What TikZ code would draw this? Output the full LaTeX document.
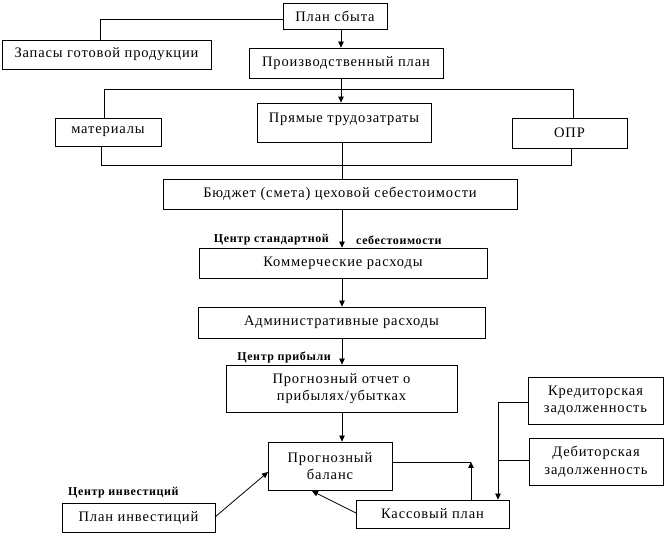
\documentclass[tikz,border=0pt]{standalone}
\usepackage{fontspec}
\setmainfont{Liberation Serif}[LetterSpace=6]
\newfontfamily\lblfont{Liberation Serif}[LetterSpace=5]
\usetikzlibrary{arrows.meta}
\begin{document}
\begin{tikzpicture}[x=1pt,y=-1pt,
  box/.style={draw=black,line width=0.8pt,inner sep=0pt,font=\fontsize{14.5}{17.5}\selectfont,align=center},
  lbl/.style={font=\lblfont\bfseries\fontsize{12}{14}\selectfont,inner sep=0pt},
  ln/.style={draw=black,line width=0.8pt},
  arr/.style={ln,-{Triangle[length=6pt,width=5.5pt]}}]
\useasboundingbox (0,0) rectangle (665,534);
% boxes
\node[box,minimum width=104,minimum height=26] (sbyt) at (335,16) {План сбыта};
\node[box,minimum width=209,minimum height=29] (zapas) at (106.5,54.5) {Запасы готовой продукции};
\node[box,minimum width=194,minimum height=30] (proiz) at (346,63) {Производственный план};
\node[box,minimum width=106,minimum height=28] (mat) at (108,132) {материалы};
\node[box,minimum width=174,text height=20pt,text depth=19pt,anchor=base] (pryam) at (344,123) {Прямые трудозатраты};
\node[box,minimum width=115,minimum height=30] (opr) at (569.5,133) {ОПР};
\node[box,minimum width=354,minimum height=30] (budg) at (340,194) {Бюджет (смета) цеховой себестоимости};
\node[box,minimum width=288,minimum height=30] (komm) at (343,263) {Коммерческие расходы};
\node[box,minimum width=287,minimum height=31] (adm) at (341.5,322.5) {Административные расходы};
\node[box,minimum width=231,minimum height=47] (prog) at (341.5,388.5) {Прогнозный отчет о\\прибылях/убытках};
\node[box,minimum width=124,minimum height=48] (bal) at (330,466) {Прогнозный\\баланс};
\node[box,minimum width=153,minimum height=28] (kas) at (432.5,514) {Кассовый план};
\node[box,minimum width=153,minimum height=29] (inv) at (138.5,517.5) {План инвестиций};
\node[box,minimum width=135,minimum height=47] (kred) at (595.5,400.5) {Кредиторская\\задолженность};
\node[box,minimum width=134,minimum height=47] (deb) at (596,461.5) {Дебиторская\\задолженность};
% labels
\node[lbl,anchor=east] (l1) at (329,240) {Центр стандартной};
\node[lbl,anchor=west] (l2) at (356,240) {себестоимости};
\node[lbl,anchor=east] (l3) at (331,357) {Центр прибыли};
\node[lbl,anchor=west] (l4) at (68,493) {Центр инвестиций};
% helper coordinates
\coordinate (c341) at (341,0);
\coordinate (c342) at (342,0);
\coordinate (zx) at (100,19);
\coordinate (busT) at (341,89);
\coordinate (busTL) at (104,89);
\coordinate (busTR) at (573,89);
\coordinate (busBL) at (101,165);
\coordinate (busBR) at (571,165);
\coordinate (busBC) at (342,165);
\coordinate (kx) at (498,402);
\coordinate (dx) at (498,460);
\coordinate (bx) at (471,462);
\coordinate (kasL) at (356,513);
\coordinate (balB) at (312,491);
\coordinate (invR) at (215,517);
\coordinate (balL) at (268,472);
% connectors
\draw[ln] (sbyt.west |- zx) -- (zx) -- (zx |- zapas.north);
\draw[arr] (sbyt.south -| c341) -- (proiz.north -| c341);
\draw[ln] (proiz.south -| c341) -- (busT);
\draw[arr] (busT) -- (pryam.north -| c341);
\draw[ln] (mat.north -| busTL) -- (busTL) -- (busTR) -- (opr.north -| busTR);
\draw[ln] (mat.south -| busBL) -- (busBL) -- (busBR) -- (opr.south -| busBR);
\draw[ln] (pryam.south -| busBC) -- (budg.north -| busBC);
\draw[arr] (budg.south -| c342) -- (komm.north -| c342);
\draw[arr] (komm.south -| c342) -- (adm.north -| c342);
\draw[arr] (adm.south -| c342) -- (prog.north -| c342);
\draw[arr] (prog.south -| c342) -- (bal.north -| c342);
\draw[ln] (bal.east |- bx) -- (bx);
\draw[arr] (kas.north -| bx) -- (bx);
\draw[ln] (kred.west |- kx) -- (kx);
\draw[ln] (deb.west |- dx) -- (dx);
\draw[arr] (kx) -- (kas.north -| kx);
\draw[arr] (kasL) -- (balB);
\draw[arr] (invR) -- (balL);
\end{tikzpicture}
\end{document}
